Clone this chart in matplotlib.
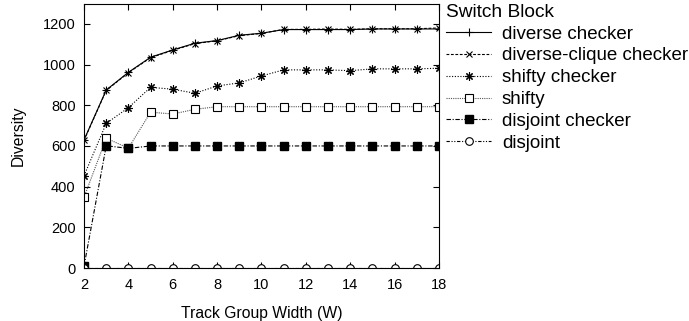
import matplotlib
matplotlib.use("Agg")
import matplotlib.pyplot as plt

plt.rcParams['font.family'] = ['Liberation Sans', 'DejaVu Sans']

# track group width
width = [2, 3, 4, 5, 6, 7, 8, 9, 10, 11, 12, 13, 14, 15, 16, 17, 18]

diverse_checker = [630, 875, 962, 1036, 1072, 1105, 1118, 1144, 1154, 1172, 1172, 1172, 1172, 1175, 1175, 1175, 1175]
diverse_clique = [628, 873, 960, 1034, 1070, 1103, 1117, 1142, 1153, 1173, 1173, 1175, 1173, 1176, 1176, 1176, 1180]
shifty_checker = [454, 711, 788, 888, 879, 859, 895, 910, 944, 974, 974, 974, 970, 979, 979, 979, 982]
shifty = [348, 638, 589, 766, 757, 780, 793, 793, 793, 793, 793, 793, 793, 793, 793, 793, 793]
disjoint_checker = [10, 601, 588, 600, 600, 600, 600, 600, 600, 600, 600, 600, 600, 600, 600, 600, 600]
disjoint = [0] * 17

fig = plt.figure(figsize=(6.89, 3.21), dpi=100)
ax = fig.add_axes([0.122, 0.165, 0.515, 0.824])

lw = 0.8
ax.plot(width, diverse_checker, color='black', lw=lw, ls='-', marker='+', ms=6, mew=0.8, label='diverse checker')
ax.plot(width, diverse_clique, color='black', lw=lw, ls=(0, (2.5, 1.5)), marker='x', ms=5, mew=0.8, label='diverse-clique checker')
ax.plot(width, shifty_checker, color='black', lw=lw, ls=(0, (1, 1.5)), marker=(8, 2, 0), ms=6, mew=0.8, label='shifty checker')
ax.plot(width, shifty, color='#555555', lw=lw, ls=(0, (1, 1)), marker='s', ms=5.5, mfc='white', mec='black', mew=0.8, label='shifty')
ax.plot(width, disjoint_checker, color='black', lw=lw, ls=(0, (4, 1.5, 1, 1.5)), marker='s', ms=6, mfc='black', mec='black', label='disjoint checker')
ax.plot(width, disjoint, color='black', lw=lw, ls=(0, (3, 1.5, 1, 1.5, 1, 1.5)), marker='o', ms=5.5, mfc='white', mec='black', mew=0.8, label='disjoint')

ax.set_xlim(2, 18)
ax.set_ylim(0, 1300)
ax.set_xticks(range(2, 19, 2))
ax.set_yticks(range(0, 1201, 200))
ax.tick_params(direction='in', top=True, right=True, labelsize=10.5, length=4, pad=6)
ax.tick_params(axis='x', pad=7.5)
ax.set_xlabel('Track Group Width (W)', fontsize=11.3, labelpad=10)
ax.set_ylabel('Diversity', fontsize=11.3, labelpad=12)

leg = fig.legend(loc='upper left', bbox_to_anchor=(0.648, 0.988), title='Switch Block',
                 fontsize=13.5, title_fontsize=13.8, frameon=False, handlelength=2.4,
                 handletextpad=0.55, labelspacing=0.25, borderaxespad=0, borderpad=0)
leg._legend_box.align = 'left'

fig.savefig('out.png', dpi=100)
